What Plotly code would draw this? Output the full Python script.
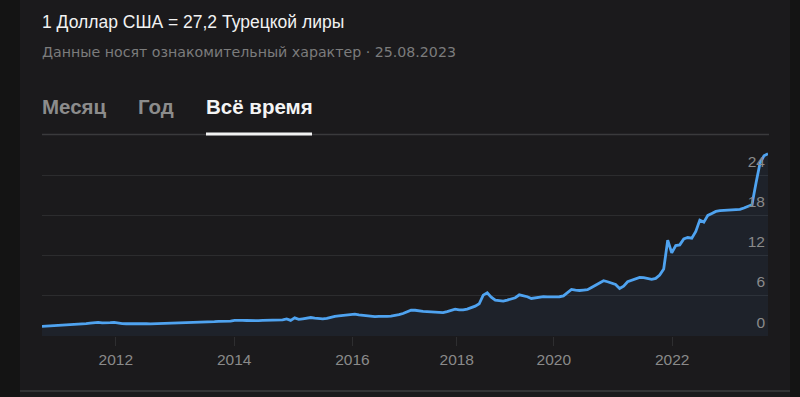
import plotly.graph_objects as go

# ---- data (equally spaced samples) ----
rate = [
    1.45, 1.48, 1.50, 1.53, 1.55, 1.57, 1.61, 1.65, 1.70, 1.73,
    1.80, 1.86, 1.92, 1.98, 2.02, 1.96, 1.94, 1.99, 2.04, 1.93,
    1.86, 1.83, 1.85, 1.81, 1.79, 1.81, 1.83, 1.80, 1.82, 1.79,
    1.81, 1.84, 1.83, 1.86, 1.89, 1.90, 1.94, 1.96, 1.99, 2.03,
    2.06, 2.08, 2.13, 2.14, 2.18, 2.19, 2.15, 2.22, 2.32, 2.38,
    2.33, 2.31, 2.27, 2.26, 2.29, 2.33, 2.35, 2.30, 2.38, 2.44,
    2.40, 2.56, 2.33, 2.70, 2.48, 2.57, 2.65, 2.76, 2.67, 2.61,
    2.55, 2.63, 2.80, 2.93, 3.00, 3.06, 3.07, 3.21, 3.25, 3.14,
    3.06, 3.00, 2.95, 2.90, 2.93, 2.88, 2.94, 2.98, 3.03, 3.18,
    3.36, 3.60, 3.86, 3.84, 3.73, 3.67, 3.63, 3.57, 3.56, 3.51,
    3.50, 3.63, 3.80, 4.00, 3.91, 3.89, 4.01, 4.20, 4.46, 4.80,
    6.10, 6.45, 5.80, 5.34, 5.26, 5.20, 5.36, 5.49, 5.71, 6.15,
    6.04, 5.86, 5.60, 5.73, 5.81, 5.89, 5.84, 5.83, 5.81, 5.86,
    5.98, 6.50, 6.95, 6.84, 6.79, 6.86, 6.92, 7.25, 7.56, 7.85,
    8.25, 8.10, 7.92, 7.70, 7.10, 7.45, 8.10, 8.32, 8.48, 8.75,
    8.72, 8.58, 8.46, 8.60, 9.10, 10.0, 14.3, 12.4, 13.5, 13.6,
    14.5, 14.7, 14.6, 15.6, 17.3, 17.0, 18.0, 18.3, 18.6, 18.7,
    18.75, 18.8, 18.82, 18.85, 18.9, 19.1, 19.3, 19.6, 22.8, 25.8,
    26.9, 27.2,
]
sample_index = list(range(len(rate)))

year_tick_index = [18.4, 47.9, 77.4, 103.4, 127.6, 157.1]
year_labels = ["2012", "2014", "2016", "2018", "2020", "2022"]
value_ticks = [0, 6, 12, 18, 24]

title_text = "1 Доллар США = 27,2 Турецкой лиры"
subtitle_text = "Данные носят ознакомительный характер · 25.08.2023"
tabs = ["Месяц", "Год", "Всё время"]

# ---- layout geometry (pixels) ----
W, H = 800, 397
L, R, T, B = 42, 32, 135, 61
PW = W - L - R
PH = H - T - B


def px(x):
    return (x - L) / PW


def py(y):
    return (H - B - y) / PH


FONT = "Liberation Sans, Arial, sans-serif"
SUBFONT = "DejaVu Sans, sans-serif"

fig = go.Figure()
fig.add_trace(go.Scatter(
    x=sample_index, y=rate, mode="lines",
    line=dict(color="#4fa3f0", width=2.8),
    fill="tozeroy", fillcolor="rgba(70,140,228,0.07)",
    hoverinfo="skip",
))

shapes = [
    # card
    dict(type="rect", xref="paper", yref="paper", x0=px(20), x1=px(790),
         y0=py(397), y1=py(0), fillcolor="#1b1a1c", line=dict(width=0), layer="below"),
    # bottom divider
    dict(type="line", xref="paper", yref="paper", x0=px(20), x1=px(790),
         y0=py(391), y1=py(391), line=dict(color="#333335", width=2), layer="below"),
    # tab separator
    dict(type="line", xref="paper", yref="paper", x0=px(42), x1=px(769),
         y0=py(134.5), y1=py(134.5), line=dict(color="#3a3a3c", width=1.5)),
    # active tab underline
    dict(type="line", xref="paper", yref="paper", x0=px(206), x1=px(312),
         y0=py(134), y1=py(134), line=dict(color="#f2f2f2", width=3)),
]

annotations = [
    dict(text=title_text, x=px(40), y=py(22), xref="paper", yref="paper",
         xanchor="left", yanchor="middle", showarrow=False,
         font=dict(family=FONT, size=17.5, color="#f2f2f2")),
    dict(text=subtitle_text, x=px(40), y=py(52), xref="paper", yref="paper",
         xanchor="left", yanchor="middle", showarrow=False,
         font=dict(family=SUBFONT, size=14.2, color="#7c7c7c")),
]
tab_x = [40, 136, 204]
tab_col = ["#8c8c8c", "#8c8c8c", "#f4f4f4"]
for t, xx, cc in zip(tabs, tab_x, tab_col):
    annotations.append(dict(text="<b>" + t + "</b>", x=px(xx), y=py(106), xref="paper",
                            yref="paper", xanchor="left", yanchor="middle", showarrow=False,
                            font=dict(family=FONT, size=20.5, color=cc)))

fig.update_layout(
    width=W, height=H,
    margin=dict(l=L, r=R, t=T, b=B),
    paper_bgcolor="#141414", plot_bgcolor="rgba(0,0,0,0)",
    showlegend=False,
    shapes=shapes, annotations=annotations,
    xaxis=dict(range=[0, len(rate) - 1], tickvals=year_tick_index, ticktext=year_labels,
               showgrid=False, zeroline=False, showline=False,
               ticks="outside", ticklen=9, tickcolor="#2e2e30", tickwidth=1,
               tickfont=dict(family=FONT, size=15.5, color="#8a8a8a")),
    yaxis=dict(range=[0, 30], tickvals=value_ticks, side="right",
               ticklabelposition="inside top", ticklabelshift=-3,
               showgrid=True, gridcolor="#2c2c2e",
               gridwidth=1, zeroline=False, showline=False, ticks="",
               tickfont=dict(family=FONT, size=15.5, color="#8a8a8a")),
)

fig.write_html("out.html")
